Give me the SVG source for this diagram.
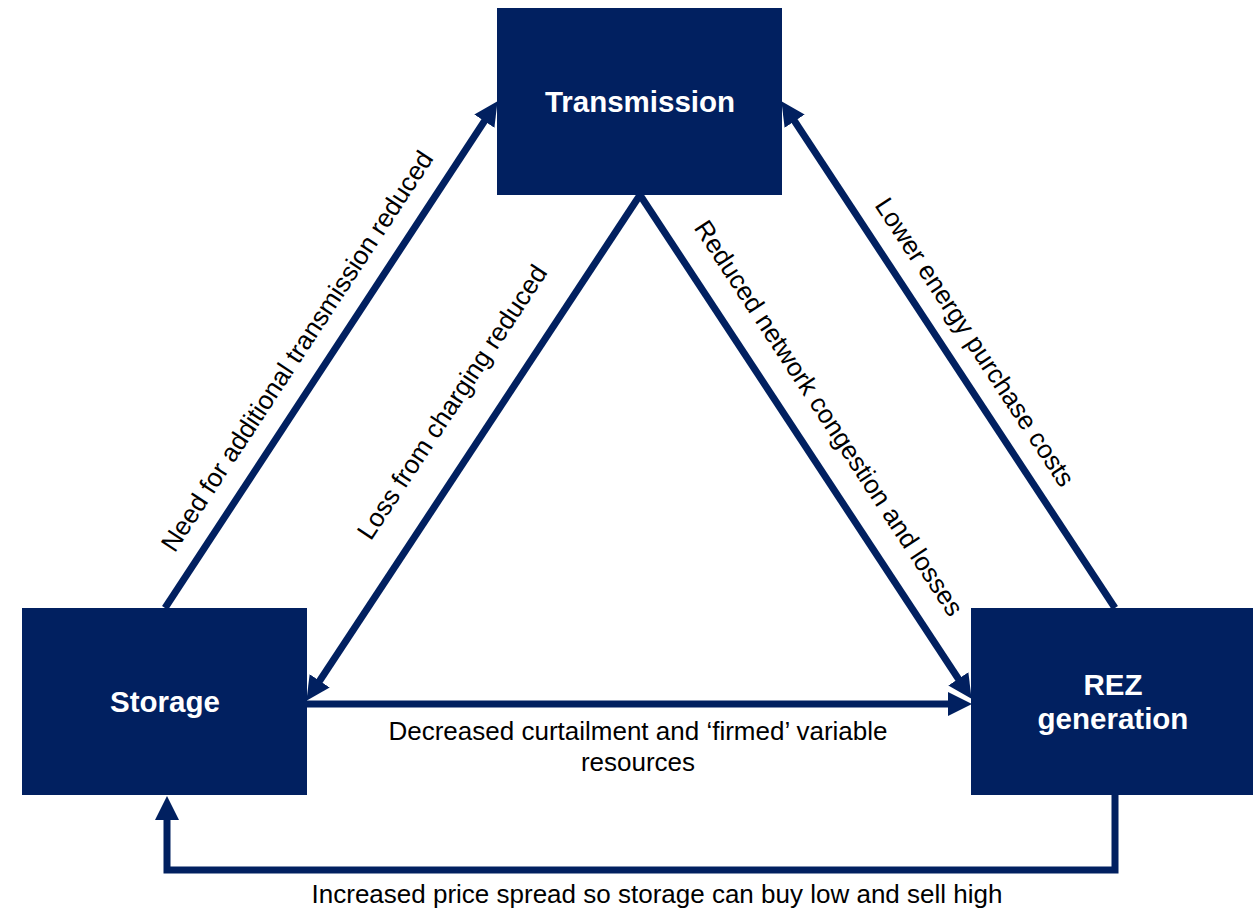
<svg xmlns="http://www.w3.org/2000/svg" width="1253" height="912" viewBox="0 0 1253 912">
<style>
.box{fill:#012060}
.title{font-family:"Liberation Sans",Arial,sans-serif;font-weight:bold;font-size:29.5px;fill:#ffffff;text-anchor:middle}
.lbl{font-family:"Liberation Sans",Arial,sans-serif;font-size:26px;fill:#000000;text-anchor:middle}
.conn{stroke:#012060;stroke-width:7;fill:none}
</style>
<defs>
<marker id="ah" markerUnits="userSpaceOnUse" markerWidth="24" markerHeight="24" viewBox="0 0 24 24" refX="11" refY="12" orient="auto">
<path d="M0,0 L24,12 L0,24 Z" fill="#012060"/>
</marker>
</defs>
<rect width="1253" height="912" fill="#ffffff"/>
<g id="connectors">
<line class="conn" x1="165" y1="608" x2="490.4" y2="112" marker-end="url(#ah)"/>
<line class="conn" x1="640" y1="195" x2="313.6" y2="690" marker-end="url(#ah)"/>
<line class="conn" x1="640" y1="195" x2="964.4" y2="688" marker-end="url(#ah)"/>
<line class="conn" x1="307" y1="704" x2="959" y2="704" marker-end="url(#ah)"/>
<line class="conn" x1="1115" y1="608" x2="788.6" y2="112" marker-end="url(#ah)"/>
<path class="conn" d="M1115,795 L1115,870 L167,870 L167,809" marker-end="url(#ah)"/>
<text class="lbl" transform="translate(297,351) rotate(-56.7)" y="9">Need for additional transmission reduced</text>
<text class="lbl" transform="translate(452,402) rotate(-56.6)" y="9">Loss from charging reduced</text>
<text class="lbl" transform="translate(829,418) rotate(56.7)" y="9">Reduced network congestion and losses</text>
<text class="lbl" transform="translate(975,342) rotate(56.6)" y="9">Lower energy purchase costs</text>
<text class="lbl" x="638" y="740">Decreased curtailment and ‘firmed’ variable</text>
<text class="lbl" x="638" y="771">resources</text>
<text class="lbl" x="657" y="903">Increased price spread so storage can buy low and sell high</text>
</g>
<g id="transmission">
<rect class="box" x="497" y="8" width="285" height="187"/>
<text class="title" x="640" y="112">Transmission</text>
</g>
<g id="storage">
<rect class="box" x="22" y="608" width="285" height="187"/>
<text class="title" x="165" y="712">Storage</text>
</g>
<g id="rez">
<rect class="box" x="971" y="608" width="282" height="187"/>
<text class="title" x="1113" y="695">REZ</text>
<text class="title" x="1113" y="729">generation</text>
</g>
</svg>
